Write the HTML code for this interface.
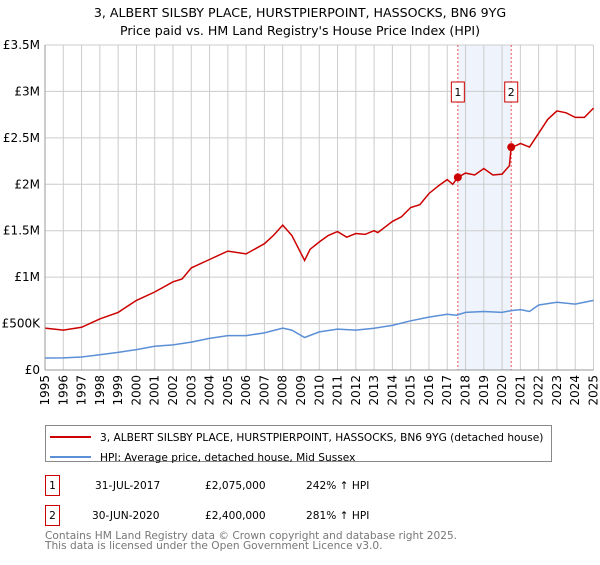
<!DOCTYPE html>
<html><head><meta charset="utf-8"><style>
body{margin:0;background:#fff;font-family:"Liberation Sans","DejaVu Sans",sans-serif;}
svg text{font-family:"DejaVu Sans","Liberation Sans",sans-serif;}
</style></head><body>
<svg id="c" width="600" height="560" xmlns="http://www.w3.org/2000/svg">
<text x="300" y="17" text-anchor="middle" font-size="12.6" fill="#000">3, ALBERT SILSBY PLACE, HURSTPIERPOINT, HASSOCKS, BN6 9YG</text>
<text x="300" y="35" text-anchor="middle" font-size="12.6" fill="#000">Price paid vs. HM Land Registry's House Price Index (HPI)</text>
<g id="grid"></g><g id="marks"></g><g id="axes"></g>
<rect x="45.5" y="425.5" width="506" height="36" fill="#fff" stroke="#888"/>
<line x1="50" y1="437" x2="91" y2="437" stroke="#cc0000" stroke-width="2"/>
<text x="100" y="441" font-size="10.6">3, ALBERT SILSBY PLACE, HURSTPIERPOINT, HASSOCKS, BN6 9YG (detached house)</text>
<line x1="50" y1="457" x2="91" y2="457" stroke="#5b8fd6" stroke-width="2"/>
<text x="100" y="461" font-size="10.6">HPI: Average price, detached house, Mid Sussex</text>
<rect x="45.5" y="475.5" width="14" height="20" fill="#fff" stroke="#cc0000"/>
<text x="52.5" y="489" font-size="10.6" text-anchor="middle">1</text>
<text x="95" y="489" font-size="10.6">31-JUL-2017</text>
<text x="205" y="489" font-size="10.6">£2,075,000</text>
<text x="306" y="489" font-size="10.6">242% ↑ HPI</text>
<rect x="45.5" y="505.5" width="14" height="20" fill="#fff" stroke="#cc0000"/>
<text x="52.5" y="519" font-size="10.6" text-anchor="middle">2</text>
<text x="92" y="519" font-size="10.6">30-JUN-2020</text>
<text x="205" y="519" font-size="10.6">£2,400,000</text>
<text x="306" y="519" font-size="10.6">281% ↑ HPI</text>
<text x="45" y="539" font-size="10.6" fill="#777">Contains HM Land Registry data © Crown copyright and database right 2025.</text>
<text x="45" y="549" font-size="10.6" fill="#777">This data is licensed under the Open Government Licence v3.0.</text>
</svg>
<script>
const redYears=[1995,1996,1997,1998,1999,2000,2001,2002,2002.5,2003,2004,2005,2006,2007,2007.5,2008,2008.5,2009.2,2009.5,2010,2010.5,2011,2011.5,2012,2012.5,2013,2013.2,2014,2014.5,2015,2015.5,2016,2016.5,2017,2017.3,2017.58,2018,2018.5,2019,2019.5,2020,2020.4,2020.5,2020.8,2021,2021.5,2022,2022.5,2023,2023.5,2024,2024.5,2025];
const redValues=[0.451,0.43,0.46,0.55,0.62,0.75,0.84,0.95,0.98,1.1,1.19,1.28,1.25,1.36,1.45,1.56,1.45,1.18,1.3,1.38,1.45,1.49,1.43,1.47,1.46,1.5,1.48,1.6,1.65,1.75,1.78,1.9,1.98,2.05,2.0,2.075,2.12,2.1,2.17,2.1,2.11,2.2,2.4,2.42,2.44,2.4,2.55,2.7,2.79,2.77,2.72,2.72,2.82];
const hpiYears=[1995,1996,1997,1998,1999,2000,2001,2002,2003,2004,2005,2006,2007,2008,2008.5,2009.2,2010,2011,2012,2013,2014,2015,2016,2017,2017.5,2018,2019,2020,2020.5,2021,2021.5,2022,2023,2024,2025];
const hpiValues=[0.129,0.13,0.14,0.165,0.19,0.22,0.255,0.27,0.3,0.34,0.37,0.37,0.4,0.45,0.43,0.35,0.41,0.44,0.43,0.45,0.48,0.53,0.57,0.6,0.59,0.62,0.63,0.62,0.64,0.65,0.63,0.7,0.73,0.71,0.75];
const saleYears=[2017.58,2020.5];
const saleValues=[2.075,2.4];
const saleLabels=["1","2"];
const yTicks=[0,0.5,1,1.5,2,2.5,3,3.5];
const yTickLabels=["£0","£500K","£1M","£1.5M","£2M","£2.5M","£3M","£3.5M"];
const xTicks=[];for(let y=1995;y<=2025;y++)xTicks.push(y);

const L=45,R=593.5,T=45,B=370;
const xs=v=>L+(v-1995)/30*(R-L);
const ys=v=>B-v/3.5*(B-T);
const NS="http://www.w3.org/2000/svg";
function mk(tag,attrs,parent){const e=document.createElementNS(NS,tag);for(const k in attrs)e.setAttribute(k,attrs[k]);document.getElementById(parent).appendChild(e);return e;}

mk('rect',{x:xs(saleYears[0]),y:T,width:xs(saleYears[1])-xs(saleYears[0]),height:B-T,fill:'#eef3fc'},'grid');
xTicks.forEach(t=>{const l=mk('line',{x1:xs(t),x2:xs(t),y1:T,y2:B,stroke:'#cccccc'},'grid');


const tx=mk('text',{x:0,y:0,'font-size':12,'text-anchor':'end',transform:`translate(${xs(t)+4},${B+5}) rotate(-90)`},'axes');tx.textContent=t;

});
yTicks.forEach((t,i)=>{const l=mk('line',{x1:L,x2:R,y1:ys(t),y2:ys(t),stroke:'#cccccc'},'grid');


const tx=mk('text',{x:L-5,y:ys(t)+4,'font-size':12,'text-anchor':'end'},'axes');tx.textContent=yTickLabels[i];

});
mk('line',{x1:L,x2:L,y1:T,y2:B,stroke:'#999'},'axes');
mk('line',{x1:L,x2:R,y1:B,y2:B,stroke:'#999'},'axes');

saleYears.forEach((s,i)=>{const l=mk('line',{x1:xs(s),x2:xs(s),y1:T,y2:B,stroke:'#ee5555','stroke-dasharray':'2,2'},'marks');

});

const hp=mk('path',{d:hpiYears.map((y,i)=>(i?'L':'M')+xs(y).toFixed(1)+' '+ys(hpiValues[i]).toFixed(1)).join(''),fill:'none',stroke:'#5b8fd6','stroke-width':1.5},'marks');


const rp=mk('path',{d:redYears.map((y,i)=>(i?'L':'M')+xs(y).toFixed(1)+' '+ys(redValues[i]).toFixed(1)).join(''),fill:'none',stroke:'#cc0000','stroke-width':1.5},'marks');



saleYears.forEach((s,i)=>{const c=mk('circle',{cx:xs(s),cy:ys(saleValues[i]),r:4,fill:'#cc0000'},'marks');


const b=mk('rect',{x:xs(s)-6.5,y:82,width:13,height:20,fill:'#fff',stroke:'#cc0000'},'marks');


const t=mk('text',{x:xs(s),y:96,'font-size':11,'text-anchor':'middle'},'marks');t.textContent=saleLabels[i];});
</script>
</body></html>
